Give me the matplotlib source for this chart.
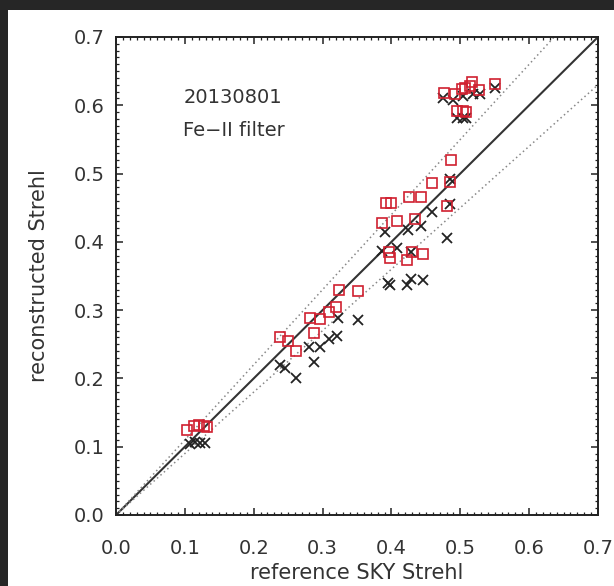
import matplotlib.pyplot as plt
from matplotlib.patches import Rectangle
from matplotlib.ticker import MultipleLocator

# reference SKY Strehl vs reconstructed Strehl, 2013-08-01, Fe-II filter
# squares: first reconstruction, crosses: second reconstruction

sky_sq = [0.476, 0.492, 0.502, 0.507, 0.517, 0.514, 0.527, 0.550, 0.495, 0.504, 0.508,
          0.486, 0.485, 0.459, 0.480, 0.392, 0.399, 0.425, 0.443, 0.386, 0.408, 0.434,
          0.396, 0.398, 0.422, 0.430, 0.446,
          0.324, 0.351, 0.319, 0.309, 0.296, 0.282, 0.288, 0.238, 0.250, 0.262,
          0.103, 0.113, 0.121, 0.128, 0.132]
rec_sq = [0.618, 0.616, 0.624, 0.625, 0.634, 0.628, 0.622, 0.631, 0.592, 0.592, 0.590,
          0.520, 0.488, 0.486, 0.452, 0.457, 0.457, 0.466, 0.466, 0.428, 0.431, 0.434,
          0.385, 0.376, 0.373, 0.385, 0.382,
          0.329, 0.328, 0.305, 0.298, 0.287, 0.288, 0.266, 0.260, 0.255, 0.240,
          0.124, 0.130, 0.132, 0.131, 0.129]

sky_x = [0.475, 0.489, 0.504, 0.518, 0.528, 0.550, 0.495, 0.504, 0.509,
         0.485, 0.485, 0.459, 0.390, 0.424, 0.443, 0.480, 0.386, 0.408, 0.428,
         0.395, 0.398, 0.422, 0.428, 0.446,
         0.322, 0.351, 0.321, 0.309, 0.280, 0.296, 0.287, 0.238, 0.245, 0.262,
         0.107, 0.115, 0.122, 0.129]
rec_x = [0.611, 0.608, 0.614, 0.617, 0.617, 0.625, 0.582, 0.582, 0.582,
         0.492, 0.455, 0.444, 0.415, 0.418, 0.423, 0.405, 0.386, 0.391, 0.385,
         0.340, 0.337, 0.337, 0.346, 0.344,
         0.288, 0.285, 0.262, 0.258, 0.246, 0.246, 0.224, 0.220, 0.216, 0.201,
         0.104, 0.107, 0.106, 0.106]

date_label = "20130801"
filter_label = "Fe\u2212II filter"

plt.rcParams["font.family"] = ["DejaVu Sans"]
text_color = "#333333"

fig = plt.figure(figsize=(6.14, 5.86), dpi=100, facecolor="#262626")
fig.patches.append(Rectangle((8 / 614, 0), 1, (586 - 10) / 586,
                             transform=fig.transFigure, facecolor="white",
                             edgecolor="none", zorder=-10))

ax = fig.add_axes([116 / 614, (586 - 515) / 586, 482 / 614, 478 / 586])
ax.set_zorder(5)
ax.set_facecolor("white")

# one-to-one line and +/-10% bands
ref = [0.0, 0.7]
ax.plot(ref, ref, color="#333333", linewidth=1.5, zorder=2)
ax.plot(ref, [v * 1.1 for v in ref], color="#888888", linewidth=1.1,
        linestyle=(0, (1, 2)), zorder=2)
ax.plot(ref, [v * 0.9 for v in ref], color="#888888", linewidth=1.1,
        linestyle=(0, (1, 2)), zorder=2)

ax.plot(sky_x, rec_x, linestyle="none", marker="x", markersize=6.5,
        markeredgewidth=1.3, color="#222222", zorder=3)
ax.plot(sky_sq, rec_sq, linestyle="none", marker="s", markersize=7,
        markerfacecolor="none", markeredgewidth=1.2, markeredgecolor="#d02030",
        zorder=4)

ax.text(0.098, 0.612, date_label, fontsize=14, color=text_color, va="center")
ax.text(0.098, 0.563, filter_label, fontsize=14, color=text_color, va="center")

ax.set_xlim(0, 0.7)
ax.set_ylim(0, 0.7)
ax.xaxis.set_major_locator(MultipleLocator(0.1))
ax.yaxis.set_major_locator(MultipleLocator(0.1))
ax.xaxis.set_minor_locator(MultipleLocator(0.01))
ax.yaxis.set_minor_locator(MultipleLocator(0.01))
ax.xaxis.set_major_formatter(plt.FuncFormatter(lambda v, p: f"{v:.1f}"))
ax.yaxis.set_major_formatter(plt.FuncFormatter(lambda v, p: f"{v:.1f}"))
ax.tick_params(which="both", direction="in", top=True, right=True,
               color="#222222", labelsize=14, labelcolor=text_color)
ax.tick_params(which="major", length=5, width=1.1)
ax.tick_params(which="minor", length=2.5, width=0.9)
ax.tick_params(axis="x", which="major", pad=17)
ax.tick_params(axis="y", which="major", pad=8)
for side in ax.spines.values():
    side.set_linewidth(1.4)
    side.set_color("#222222")

ax.set_xlabel("reference SKY Strehl", fontsize=15, color=text_color, labelpad=4)
ax.set_ylabel("reconstructed Strehl", fontsize=15, color=text_color, labelpad=18)

fig.savefig("out.png", dpi=100, facecolor=fig.get_facecolor())
